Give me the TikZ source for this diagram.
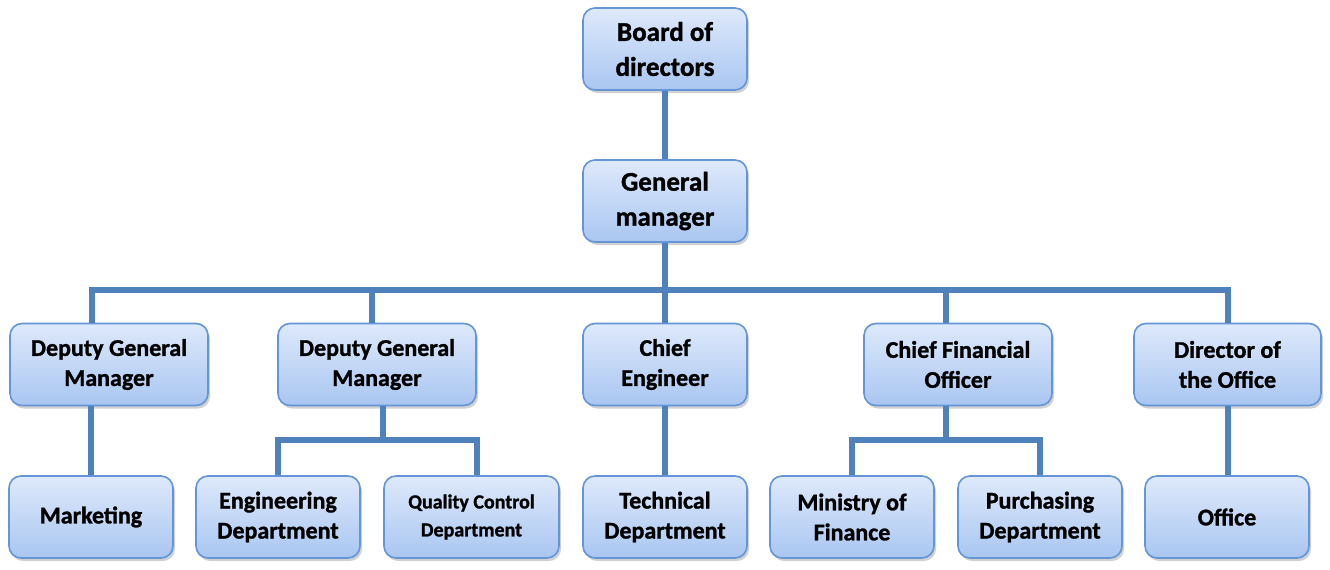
\documentclass[tikz,border=0pt]{standalone}
\usepackage{fontspec}
\setmainfont{Carlito}[BoldFeatures={FakeBold=1.2}]
\usetikzlibrary{shadows}
\definecolor{conncol}{HTML}{4F81BD}
\definecolor{boxborder}{HTML}{6495D6}
\definecolor{boxtop}{HTML}{DEE9FB}
\definecolor{boxbot}{HTML}{A9C6F1}
\tikzset{
  box/.style={draw=boxborder, line width=1.6pt, rounded corners=12pt,
    top color=boxtop, bottom color=boxbot, minimum height=82pt,
    align=center, inner sep=2pt,
    font=\fontsize{24}{30}\selectfont\bfseries,
    drop shadow={shadow xshift=2pt, shadow yshift=-3pt, opacity=0.3, fill=black!60}},
  bigbox/.style={box, font=\fontsize{27}{35}\selectfont\bfseries},
  conn/.style={draw=conncol, line width=6pt}
}
\begin{document}
\begin{tikzpicture}[x=1pt,y=-1pt]
\useasboundingbox (0,0) rectangle (1330,570);
% level 0/1
\node[bigbox, minimum width=164pt] (board) at (665,49) {Board of\\directors};
\node[bigbox, minimum width=164pt] (gm) at (665,201) {General\\manager};
% level 2
\node[box, minimum width=198pt] (dgm1) at (109,364.5) {Deputy General\\Manager};
\node[box, minimum width=198pt] (dgm2) at (377,364.5) {Deputy General\\Manager};
\node[box, minimum width=164pt] (ce) at (665,364.5) {Chief\\Engineer};
\node[box, minimum width=188pt] (cfo) at (958,364.5) {Chief Financial\\Officer};
\node[box, minimum width=187pt] (dir) at (1227.5,364.5) {Director of\\the Office};
% level 3
\node[box, minimum width=164pt] (mkt) at (91,517) {Marketing};
\node[box, minimum width=164pt] (eng) at (278,517) {Engineering\\Department};
\node[box, minimum width=175pt, font=\fontsize{20}{28}\selectfont\bfseries] (qc) at (471.5,517) {Quality Control\\Department};
\node[box, minimum width=164pt] (tech) at (665,517) {Technical\\Department};
\node[box, minimum width=164pt] (fin) at (852,517) {Ministry of\\Finance};
\node[box, minimum width=164pt] (pur) at (1040,517) {Purchasing\\Department};
\node[box, minimum width=164pt] (off) at (1227,517) {Office};
% connectors
\coordinate (bus) at (665,290);
\coordinate (subA) at (383,440);
\coordinate (subB) at (946,440);
\draw[conn] (board.south) -- (gm.north);
\draw[conn] (gm.south) -- (bus);
\draw[conn] ([xshift=-17pt]dgm1.north) |- (bus) -| (dir.north);
\draw[conn] ([xshift=-5pt]dgm2.north) -- ([xshift=-5pt]dgm2.north |- bus);
\draw[conn] (ce.north) -- (ce.north |- bus);
\draw[conn] ([xshift=-12pt]cfo.north) -- ([xshift=-12pt]cfo.north |- bus);
\draw[conn] (mkt.north) -- (mkt.north |- dgm1.south);
\draw[conn] (subA |- dgm2.south) -- (subA);
\draw[conn] (eng.north) |- (subA) -| ([xshift=5.5pt]qc.north);
\draw[conn] (ce.south) -- (tech.north);
\draw[conn] (subB |- cfo.south) -- (subB);
\draw[conn] (fin.north) |- (subB) -| (pur.north);
\draw[conn] (dir.south) -- (dir.south |- off.north);
\end{tikzpicture}
\end{document}
